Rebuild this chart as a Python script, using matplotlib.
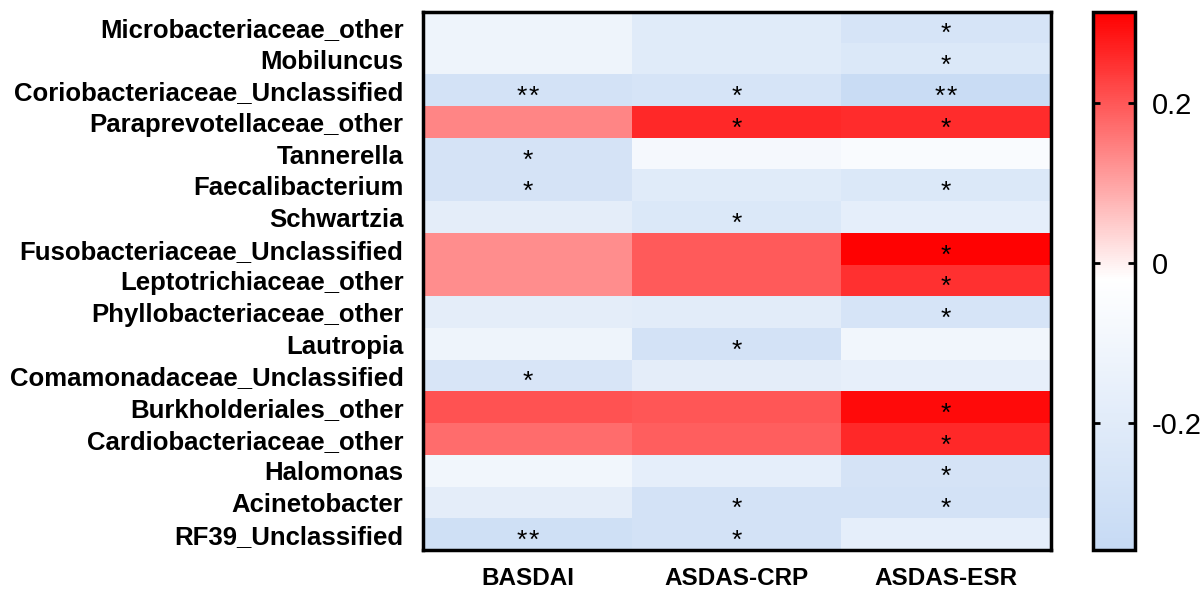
import numpy as np
import matplotlib.pyplot as plt
from matplotlib.colors import LinearSegmentedColormap

plt.rcParams['font.family'] = ['Liberation Sans', 'DejaVu Sans']

taxa = ['Microbacteriaceae_other', 'Mobiluncus', 'Coriobacteriaceae_Unclassified',
        'Paraprevotellaceae_other', 'Tannerella', 'Faecalibacterium', 'Schwartzia',
        'Fusobacteriaceae_Unclassified', 'Leptotrichiaceae_other',
        'Phyllobacteriaceae_other', 'Lautropia', 'Comamonadaceae_Unclassified',
        'Burkholderiales_other', 'Cardiobacteriaceae_other', 'Halomonas',
        'Acinetobacter', 'RF39_Unclassified']
indici = ['BASDAI', 'ASDAS-CRP', 'ASDAS-ESR']

# correlazioni (righe = taxa, colonne = indici)
basdai = [-0.12, -0.12, -0.28, 0.14, -0.27, -0.27, -0.18, 0.13, 0.13,
          -0.18, -0.12, -0.25, 0.205, 0.17, -0.10, -0.18, -0.30]
asdas_crp = [-0.20, -0.20, -0.26, 0.26, -0.08, -0.20, -0.23, 0.195, 0.195,
             -0.19, -0.28, -0.18, 0.20, 0.19, -0.17, -0.28, -0.28]
asdas_esr = [-0.26, -0.23, -0.34, 0.255, -0.05, -0.23, -0.17, 0.31, 0.25,
             -0.26, -0.10, -0.16, 0.30, 0.26, -0.27, -0.28, -0.17]

# significativita'
sig_basdai = ['', '', '**', '', '*', '*', '', '', '', '', '', '*', '', '', '', '', '**']
sig_crp = ['', '', '*', '*', '', '', '*', '', '', '', '*', '', '', '', '', '*', '*']
sig_esr = ['*', '*', '**', '*', '', '*', '', '*', '*', '*', '', '', '*', '*', '*', '*', '']

dati = np.column_stack([basdai, asdas_crp, asdas_esr])
stelle = np.column_stack([sig_basdai, sig_crp, sig_esr])

vmin, vmax = -0.36, 0.315
p0 = (0 - vmin) / (vmax - vmin)
cmap = LinearSegmentedColormap.from_list(
    'bwr_chiaro',
    [(0, '#C6DAF4'), (p0 - 0.03, '#FFFFFF'), (p0, '#FFF0F0'), (1, '#FF0000')])

fig = plt.figure(figsize=(12, 5.89), dpi=100)
ax = fig.add_axes([0.3525, 0.066, 0.523, 0.914])
cax = fig.add_axes([0.911, 0.066, 0.035, 0.914])

im = ax.imshow(dati, cmap=cmap, vmin=vmin, vmax=vmax, aspect='auto',
               interpolation='nearest')

# asterischi, uno per testo, leggermente distanziati
passo = 0.055
for i in range(dati.shape[0]):
    for j in range(dati.shape[1]):
        n = len(stelle[i, j])
        for k in range(n):
            dx = (k - (n - 1) / 2) * passo
            ax.text(j + dx, i + 0.2, '*', ha='center', va='center',
                    fontsize=19, color='black')

ax.set_yticks(range(len(taxa)))
ax.set_yticklabels(taxa, fontsize=18.5, fontweight='bold')
ax.set_xticks(range(len(indici)))
ax.set_xticklabels(indici, fontsize=17.5, fontweight='bold')
ax.tick_params(length=0, pad=14)
ax.tick_params(axis='x', pad=12)
for s in ax.spines.values():
    s.set_linewidth(2.5)

cb = fig.colorbar(im, cax=cax)
cb.set_ticks([-0.2, 0, 0.2])
cb.set_ticklabels(['-0.2', '0', '0.2'])
cax.tick_params(left=True, right=True, direction='in', length=5, width=2,
                labelsize=21, pad=12)
cb.outline.set_linewidth(2.5)

plt.savefig('out.png', dpi=100)
